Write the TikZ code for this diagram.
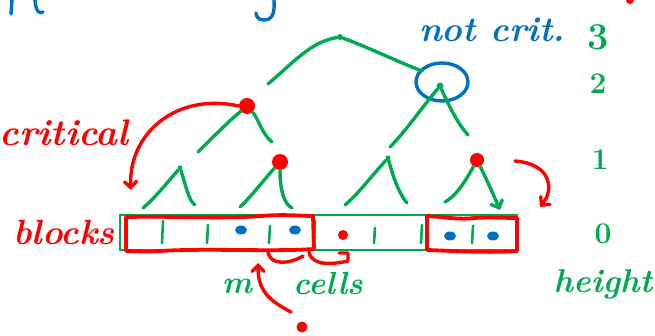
\documentclass[tikz,border=0pt]{standalone}
\usepackage{fontspec}
\usetikzlibrary{arrows.meta,shapes.geometric}
\definecolor{pgreen}{RGB}{0,170,80}
\definecolor{pred}{RGB}{255,0,0}
\definecolor{pblue}{RGB}{0,112,192}
\tikzset{
  pen/.style={line width=3.4pt,line cap=round,line join=round},
  gpen/.style={pen,draw=pgreen},
  rpen/.style={pen,draw=pred},
  bpen/.style={pen,draw=pblue},
  barb/.style={-{Straight Barb[length=6pt,width=12pt,line cap=round]}},
  gnode/.style={circle,fill=pgreen,inner sep=0pt,minimum size=7pt},
  rnode/.style={circle,fill=pred,inner sep=0pt,minimum size=16pt},
  bcell/.style={ellipse,fill=pblue,inner sep=0pt,minimum width=12pt,minimum height=9pt},
  rcell/.style={circle,fill=pred,inner sep=0pt,minimum size=10pt},
  note/.style={inner sep=0pt,font=\bfseries\itshape\fontsize{32}{32}\selectfont},
  rnote/.style={note,text=pred},
  gnote/.style={note,text=pgreen},
  bnote/.style={note,text=pblue},
  digit/.style={gnote,font=\bfseries\fontsize{30}{30}\selectfont}
}
\begin{document}
\begin{tikzpicture}[x=1pt,y=-1pt]
\useasboundingbox (0,0) rectangle (655,336);

% fragments of a heading line cut off at the top
\draw[bpen] (12,0) -- (11,14);
\draw[bpen] (35,0) .. controls (36,12) and (39,14) .. (43,12);
\draw[bpen] (274,0) .. controls (275,14) and (272,20) .. (264,20) .. controls (258,20) and (256,16) .. (256,13);
\fill[pred] (630,0) circle (4);

% ---- tree nodes ----
\node[gnode,minimum size=6pt] (r) at (340,37) {};
\node[rnode] (a) at (247,106) {};
\node[gnode] (b) at (440,86) {};
\node[gnode,minimum size=5pt] (c1) at (180,168) {};
\node[rnode] (c2) at (280,162) {};
\node[gnode,minimum size=5pt] (c3) at (388,158) {};
\node[rnode,minimum size=14pt] (c4) at (477,160) {};

% "not critical" marker round the right child of the root
\node[draw=pblue,line width=3.4pt,ellipse,minimum width=52pt,minimum height=38pt] (nc) at (442,82) {};

% free ends of the short tree strokes
\coordinate (ra) at (268,84);
\coordinate (rb) at (422,71);
\coordinate (al) at (198,152);
\coordinate (ar) at (272,142);
\coordinate (bl) at (390,147);
\coordinate (br) at (468,135);
\coordinate (c1l) at (143,208);
\coordinate (c1r) at (195,205);
\coordinate (c2l) at (240,207);
\coordinate (c2r) at (292,208);
\coordinate (c3l) at (345,205);
\coordinate (c3r) at (407,203);
\coordinate (c4l) at (445,202);
\coordinate (c4r) at (500,210);

% ---- tree strokes ----
\draw[gpen] (r) .. controls (310,42) and (292,64) .. (ra);
\draw[gpen] (r) .. controls (370,48) and (398,62) .. (rb);
\draw[gpen] (a) .. controls (228,122) and (212,138) .. (al);
\draw[gpen] (a) .. controls (258,118) and (262,134) .. (ar);
\draw[gpen] (b) .. controls (420,110) and (405,132) .. (bl);
\draw[gpen] (b) .. controls (450,108) and (458,124) .. (br);
\draw[gpen] (c1) .. controls (165,185) and (155,198) .. (c1l);
\draw[gpen] (c1) .. controls (186,185) and (188,200) .. (c1r);
\draw[gpen] (c2) .. controls (262,182) and (250,198) .. (c2l);
\draw[gpen] (c2) .. controls (280,190) and (284,204) .. (c2r);
\draw[gpen] (c3) .. controls (370,178) and (358,194) .. (c3l);
\draw[gpen] (c3) .. controls (394,180) and (400,195) .. (c3r);
\draw[gpen] (c4) .. controls (465,182) and (456,196) .. (c4l);
\draw[gpen,barb] (c4) .. controls (486,178) and (494,196) .. (c4r);

% ---- block array ----
\draw[pgreen,line width=2pt] (120,215) rectangle (517,250);
\foreach \x/\t in {163/221,208/225,270/226,315/221,375/228,422/225,473/226}
  \draw[gpen,line width=2.6pt] (\x,\t) -- (\x-1,243);

\node[bcell] (u1) at (241,230) {};
\node[bcell] (u2) at (295,230) {};
\node[rcell] (u3) at (343,235) {};
\node[bcell] (u4) at (450,236) {};
\node[bcell] (u5) at (493,236) {};

% critical blocks, outlined by hand
\draw[rpen,line width=3.8pt] (126,217) .. controls (180,216) and (220,219) .. (262,216)
  .. controls (285,214) and (300,216) .. (313,216) -- (314,249)
  .. controls (270,252) and (210,248) .. (160,251) .. controls (145,252) and (132,251) .. (126,251) -- cycle;
\draw[rpen,line width=3.8pt] (427,216) .. controls (445,217) and (460,220) .. (474,218)
  .. controls (490,217) and (505,218) .. (517,218) -- (517,251)
  .. controls (490,253) and (455,251) .. (427,250) -- cycle;

% ---- labels ----
\node[rnote,font=\bfseries\itshape\fontsize{37}{37}\selectfont] (crit) at (64,133) {critical};
\node[rnote,font=\bfseries\itshape\fontsize{35}{35}\selectfont] (blk) at (64,232) {blocks};
\node[bnote,font=\bfseries\itshape\fontsize{35}{35}\selectfont] (ncl) at (492,30) {not crit.};
\node[gnote] (m) at (237,286) {m};
\node[gnote] (cells) at (328,284) {cells};
\node[gnote,font=\bfseries\itshape\fontsize{33}{33}\selectfont] (ht) at (603,284) {height};
\node[digit,font=\bfseries\fontsize{38}{38}\selectfont] (h3) at (598,37) {3};
\node[digit] (h2) at (598,84) {2};
\node[digit] (h1) at (600,160) {1};
\node[digit] (h0) at (603,234) {0};

% ---- red pointers ----
\draw[rpen,barb] (a.west) .. controls (175,92) and (128,135) .. (131,190);
\draw[rpen,barb] (515,161) .. controls (552,164) and (554,190) .. (540,207);
\draw[rpen] (268,252) .. controls (270,266) and (290,264) .. (303,256);
\draw[rpen] (309,252) .. controls (312,267) and (335,264) .. (348,261) -- (348,253) -- (339,253);
\node[rcell,minimum size=11pt] (dot) at (302,327) {};
\draw[rpen,barb] (291,312) .. controls (268,300) and (258,290) .. (258,263);
\end{tikzpicture}
\end{document}
